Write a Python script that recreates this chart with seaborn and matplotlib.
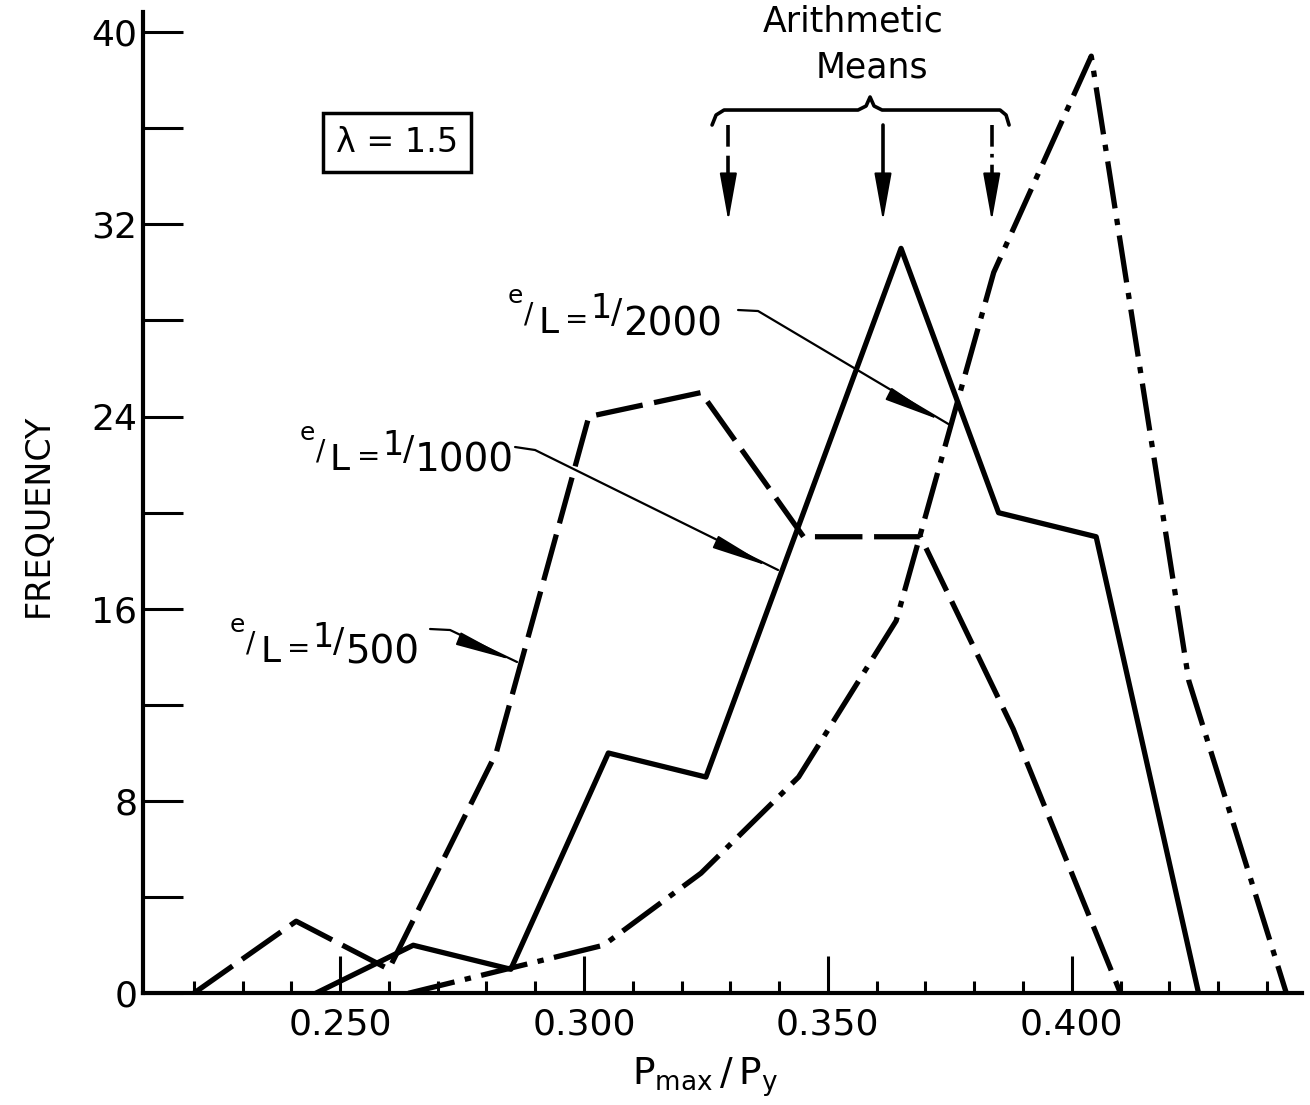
import pandas as pd
import matplotlib
matplotlib.use("Agg")
import matplotlib.pyplot as plt
import seaborn as sns
from matplotlib.ticker import FixedLocator

# frequency polygons (x = Pmax/Py, y = frequency)
x_500 = [0.220, 0.241, 0.260, 0.282, 0.301, 0.324, 0.345, 0.369, 0.388, 0.410]
f_500 = [0, 3, 1, 10, 24, 25, 19, 19, 11, 0]
x_1000 = [0.245, 0.265, 0.285, 0.305, 0.325, 0.345, 0.365, 0.385, 0.405, 0.426]
f_1000 = [0, 2, 1, 10, 9, 20, 31, 20, 19, 0]
x_2000 = [0.264, 0.284, 0.304, 0.324, 0.344, 0.364, 0.384, 0.404, 0.424, 0.444]
f_2000 = [0, 1, 2, 5, 9, 15.5, 30, 39, 13, 0]
series = ["1/500", "1/1000", "1/2000"]
arith_means = [0.3296, 0.3613, 0.3836]   # dashed, solid, dash-dot arrows

x_major = [0.250, 0.300, 0.350, 0.400]
x_labels = ["0.250", "0.300", "0.350", "0.400"]
x_minor = [0.22, 0.23, 0.24, 0.26, 0.27, 0.28, 0.29, 0.31, 0.32, 0.33, 0.34,
           0.36, 0.37, 0.38, 0.39, 0.41, 0.42, 0.43, 0.44]
y_major = [0, 8, 16, 24, 32, 40]
y_minor = [4, 12, 20, 28, 36]

df = pd.concat([
    pd.DataFrame({"ratio": x_500, "freq": f_500, "eL": series[0]}),
    pd.DataFrame({"ratio": x_1000, "freq": f_1000, "eL": series[1]}),
    pd.DataFrame({"ratio": x_2000, "freq": f_2000, "eL": series[2]}),
])

sns.set_theme(style="ticks")
plt.rcParams["font.family"] = ["DejaVu Sans"]
plt.rcParams["mathtext.default"] = "regular"
plt.rcParams["text.color"] = "black"

W, H = 1310, 1105
fig = plt.figure(figsize=(W / 100, H / 100), dpi=100)
ax = fig.add_axes([143 / W, 111.7 / H, (1302 - 143) / W, (993.3 - 11.7) / H])

sns.lineplot(data=df, x="ratio", y="freq", style="eL", sort=False, estimator=None,
             dashes={"1/500": (9, 2.2), "1/1000": "", "1/2000": (9, 2, 1.2, 2)},
             color="black", linewidth=3.8, legend=False, ax=ax)

ax.set_xlim(0.2096, 0.4472)
ax.set_ylim(0, 40.85)
ax.set_xlabel("")
ax.set_ylabel("")
ax.xaxis.set_major_locator(FixedLocator(x_major))
ax.set_xticklabels(x_labels)
ax.xaxis.set_minor_locator(FixedLocator(x_minor))
ax.yaxis.set_major_locator(FixedLocator(y_major))
ax.yaxis.set_minor_locator(FixedLocator(y_minor))
ax.tick_params(axis="x", which="major", bottom=True, direction="in", length=27, width=2.2,
               labelsize=26, pad=10, color="black", labelcolor="black")
ax.tick_params(axis="x", which="minor", bottom=True, direction="in", length=9, width=2.2,
               color="black")
ax.tick_params(axis="y", which="both", left=True, direction="in", length=29, width=2.2,
               labelsize=26, pad=4, color="black", labelcolor="black")
for s in ["top", "right"]:
    ax.spines[s].set_visible(False)
for s in ["left", "bottom"]:
    ax.spines[s].set_linewidth(3)
    ax.spines[s].set_color("black")


# helpers: image pixel -> data / figure coords
def dx(px):
    return 0.25 + (px - 340) / 4878


def dy(py):
    return (993.3 - py) / 24.03


def ftxt(px, py, s, **kw):
    fig.text(px / W, 1 - py / H, s, color="black", **kw)


ftxt(38, 515, "FREQUENCY", rotation=90, ha="center", va="center", fontsize=24)
ftxt(705, 1085, r"$P_{max}\,/\,P_y$", ha="center", va="baseline", fontsize=27)

# lambda box
ftxt(397, 152, "λ = 1.5", ha="center", va="baseline", fontsize=24,
     bbox=dict(boxstyle="square,pad=0.4", fc="white", ec="black", lw=2.5))

# arithmetic means brace and arrows
ftxt(853, 32, "Arithmetic", ha="center", va="baseline", fontsize=25)
ftxt(872, 78, "Means", ha="center", va="baseline", fontsize=25)
bx = [712, 716, 724, 858, 866, 870, 874, 882, 1000, 1006, 1009]
by = [125, 115, 110, 110, 106, 97, 106, 110, 110, 115, 125]
ax.plot([dx(p) for p in bx], [dy(p) for p in by], color="black", lw=2.6, clip_on=False)

mean_styles = [(0, (6, 2.5)), "-", (0, (6, 2, 1, 2))]
for m, ls in zip(arith_means, mean_styles):
    ax.plot([m, m], [dy(125), dy(195)], color="black", lw=2.6, linestyle=ls, clip_on=False)
    ax.annotate("", xy=(m, dy(221)), xytext=(m, dy(190)),
                arrowprops=dict(arrowstyle="-|>,head_length=1.0,head_width=0.18",
                                mutation_scale=30, color="black", lw=1.5,
                                shrinkA=0, shrinkB=0))


# e/L labels with leaders
def ratio_label(px, py, denom):
    parts = [("e", 0, -30, 18), ("/", 16, -11, 20), ("L", 30, 0, 26),
             ("=", 57, -5, 20), ("1", 82, -15, 24), ("/", 103, -10, 24),
             (denom, 115, 2, 28)]
    for s, ox, oy, fs in parts:
        ftxt(px + ox, py + oy, s, fontsize=fs, ha="left", va="baseline")


def leader(xs, ys, tail, tip):
    ax.plot([dx(p) for p in xs], [dy(p) for p in ys], color="black", lw=1.6, clip_on=False)
    ax.annotate("", xy=(dx(tip[0]), dy(tip[1])), xytext=(dx(tail[0]), dy(tail[1])),
                arrowprops=dict(arrowstyle="-|>,head_length=1.2,head_width=0.14",
                                mutation_scale=30, color="black", lw=1.2,
                                shrinkA=0, shrinkB=0))


ratio_label(508, 333, "2000")
leader([738, 758, 950], [310, 311, 425], (893, 396), (940, 420))
ratio_label(300, 470, "1000")
leader([515, 535, 778], [447, 450, 570], (718, 543), (768, 566))
ratio_label(230, 662, "500")
leader([430, 450, 517], [629, 630, 662], (472, 644), (512, 660))

fig.savefig("out.png", dpi=100)
